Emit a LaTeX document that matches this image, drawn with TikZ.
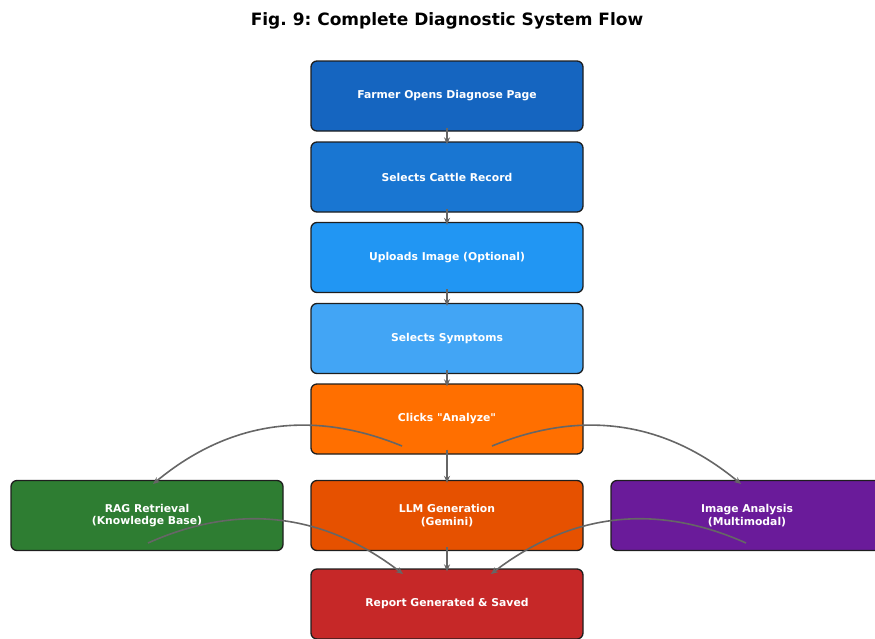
\documentclass[tikz,border=0pt]{standalone}
\usepackage{fontspec}
\setmainfont{DejaVu Sans}[Ligatures=TeXOff]
\frenchspacing
\usetikzlibrary{arrows.meta}
\definecolor{cA}{HTML}{1565C0}
\definecolor{cB}{HTML}{1976D2}
\definecolor{cC}{HTML}{2196F3}
\definecolor{cD}{HTML}{42A5F5}
\definecolor{cE}{HTML}{FF6F00}
\definecolor{cF}{HTML}{E65100}
\definecolor{cG}{HTML}{2E7D32}
\definecolor{cH}{HTML}{6A1B9A}
\definecolor{cI}{HTML}{C62828}
\definecolor{edgec}{HTML}{1E1E1E}
\definecolor{arrc}{HTML}{666666}
\tikzset{
  box/.style={draw=edgec, line width=1.3pt, rounded corners=6pt,
    minimum width=272pt, minimum height=70pt, inner sep=0pt,
    text=white, align=center, font=\fontsize{10.8}{12.5}\selectfont\bfseries},
  flow/.style={draw=arrc, line width=1.6pt, -{Stealth[length=7pt,width=6pt]}},
}
\begin{document}
\begin{tikzpicture}[x=1pt,y=-1pt]
\useasboundingbox (0,0) rectangle (875,638);
\node[font=\fontsize{17}{20}\selectfont\bfseries] (title) at (447,21) {Fig. 9: Complete Diagnostic System Flow};
\node[box, fill=cA] (n1) at (447,96) {Farmer Opens Diagnose Page};
\node[box, fill=cB] (n2) at (447,177) {Selects Cattle Record};
\node[box, fill=cC] (n3) at (447,257.5) {Uploads Image (Optional)};
\node[box, fill=cD] (n4) at (447,338.5) {Selects Symptoms};
\node[box, fill=cE] (n5) at (447,419) {Clicks "Analyze"};
\node[box, fill=cG] (rag) at (147,515.5) {RAG Retrieval\\(Knowledge Base)};
\node[box, fill=cF] (llm) at (447,515.5) {LLM Generation\\(Gemini)};
\node[box, fill=cH] (img) at (747,515.5) {Image Analysis\\(Multimodal)};
\node[box, fill=cI] (rep) at (447,604) {Report Generated \& Saved};
% straight arrows
\draw[flow] ([yshift=4pt]n1.south) -- ([yshift=-3pt]n2.north);
\draw[flow] ([yshift=4pt]n2.south) -- ([yshift=-3pt]n3.north);
\draw[flow] ([yshift=4pt]n3.south) -- ([yshift=-3pt]n4.north);
\draw[flow] ([yshift=4pt]n4.south) -- ([yshift=-3pt]n5.north);
\draw[flow] ([yshift=5pt]n5.south) -- ([yshift=-3pt]llm.north);
\draw[flow] ([yshift=4pt]llm.south) -- ([yshift=-3pt]rep.north);
% curved arrows
\draw[flow] ([shift={(-45,27)}]n5.center) .. controls +(-90.6,-37.1) and +(75.4,-62.5) .. ([shift={(6,-31.5)}]rag.center);
\draw[flow] ([shift={(45,27)}]n5.center) .. controls +(90.6,-37.1) and +(-75.4,-62.5) .. ([shift={(-6,-31.5)}]img.center);
\draw[flow] ([shift={(1,27.5)}]rag.center) .. controls +(90.5,-40.4) and +(-79.5,-61) .. ([shift={(-44,-30)}]rep.center);
\draw[flow] ([shift={(-1,27.5)}]img.center) .. controls +(-90.5,-40.4) and +(79.5,-61) .. ([shift={(44,-30)}]rep.center);
\end{tikzpicture}
\end{document}
